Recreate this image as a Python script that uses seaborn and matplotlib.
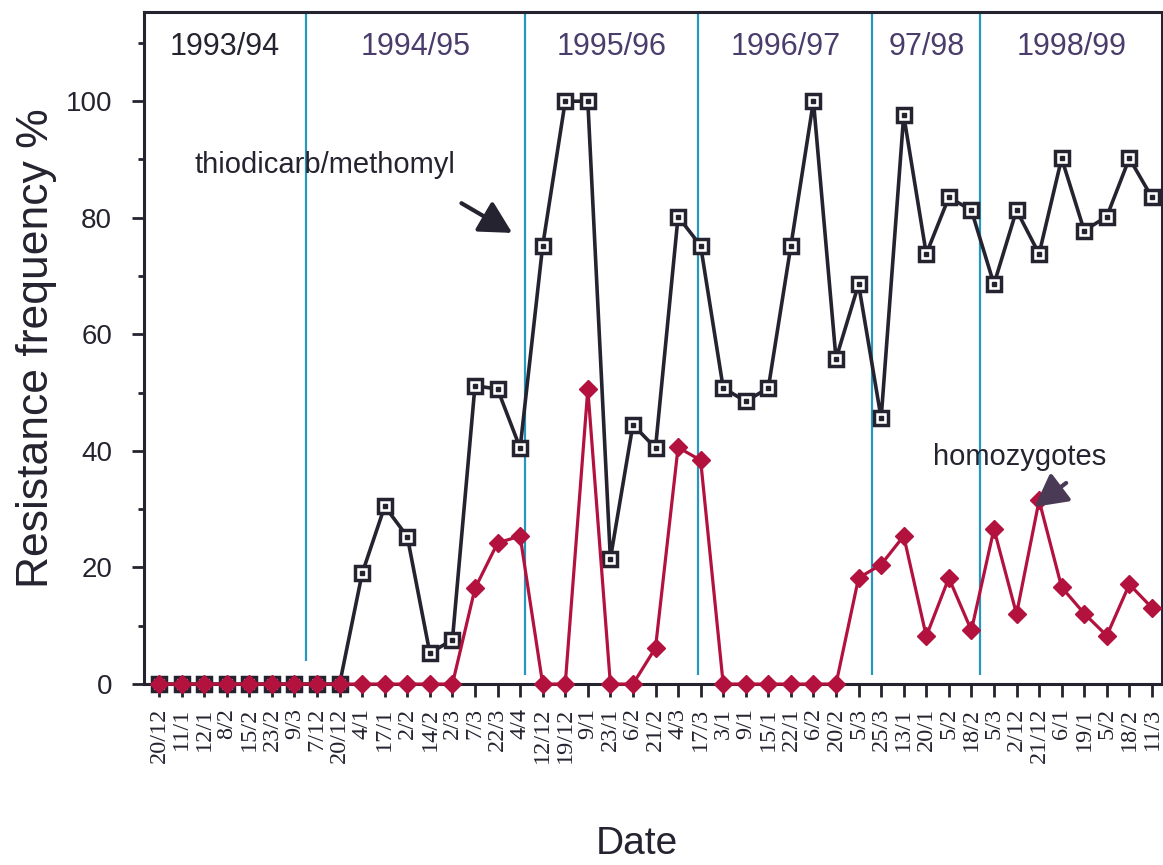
import numpy as np
import pandas as pd
import matplotlib
matplotlib.use("Agg")
import matplotlib.pyplot as plt
import seaborn as sns
from matplotlib.ticker import MultipleLocator

# ---------------- data ----------------
dates = ["20/12", "11/1", "12/1", "8/2", "15/2", "23/2", "9/3", "7/12", "20/12",
         "4/1", "17/1", "2/2", "14/2", "2/3", "7/3", "22/3", "4/4", "12/12", "19/12",
         "9/1", "23/1", "6/2", "21/2", "4/3", "17/3", "3/1", "9/1", "15/1", "22/1",
         "6/2", "20/2", "5/3", "25/3", "13/1", "20/1", "5/2", "18/2", "5/3", "2/12",
         "21/12", "6/1", "19/1", "5/2", "18/2", "11/3"]

thiodicarb = [0, 0, 0, 0, 0, 0, 0, 0, 0,
              19, 30.5, 25.3, 5.3, 7.6, 51.2, 50.6, 40.5, 75.2, 100,
              100, 21.5, 44.5, 40.5, 80.2, 75.2, 50.8, 48.5, 50.8, 75.2,
              100, 55.8, 68.6, 45.6, 97.6, 73.8, 83.5, 81.3, 68.6, 81.3,
              73.8, 90.2, 77.8, 80.2, 90.2, 83.5]

homozygotes = [0, 0, 0, 0, 0, 0, 0, 0, 0,
               0, 0, 0, 0, 0, 16.4, 24.2, 25.4, 0, 0,
               50.6, 0, 0, 6.2, 40.6, 38.4, 0, 0, 0, 0,
               0, 0, 18.2, 20.5, 25.4, 8.2, 18.2, 9.2, 26.6, 12.0,
               31.5, 16.6, 12.1, 8.3, 17.1, 13.1]

seasons = ["1993/94", "1994/95", "1995/96", "1996/97", "97/98", "1998/99"]
season_dividers = [6.5, 16.2, 23.9, 31.6, 36.4]
divider_bottoms = [4.0, 1.5, 1.5, 1.5, 1.5]

yticks = [0, 20, 40, 60, 80, 100]

# ---------------- style ----------------
sns.set_style("ticks")
plt.rcParams["font.family"] = ["Liberation Sans", "DejaVu Sans"]

BLACK = "#25232f"
RED = "#b3123e"
TEAL = "#2897bd"
PURPLE = "#4a3c6b"

fig = plt.figure(figsize=(11.63, 8.65), dpi=100)
ax = fig.add_axes([0.1238, 0.2092, 0.8752, 0.7769])

x = np.arange(len(dates))
df = pd.DataFrame({"x": x, "thio": thiodicarb, "homo": homozygotes})

XMIN, XMAX = -0.67, 44.44
YMIN, YMAX = 0, 115.3

# season dividers
ax.vlines(season_dividers, divider_bottoms, YMAX, colors=TEAL, lw=1.6, zorder=1)

# thiodicarb/methomyl series
sns.lineplot(data=df, x="x", y="thio", ax=ax, color=BLACK, lw=2.6,
             marker="s", markersize=10, markerfacecolor="white",
             markeredgecolor=BLACK, markeredgewidth=2.5, clip_on=False, zorder=3)
ax.plot(x, thiodicarb, ls="none", marker="s", markersize=2.6, color=BLACK,
        clip_on=False, zorder=4)

# homozygotes series
sns.lineplot(data=df, x="x", y="homo", ax=ax, color=RED, lw=2.3,
             marker="D", markersize=9, markerfacecolor=RED,
             markeredgecolor=RED, markeredgewidth=1, clip_on=False, zorder=5)

ax.set_xlim(XMIN, XMAX)
ax.set_ylim(YMIN, YMAX)

# axes / ticks
ax.set_xticks(x)
ax.set_xticklabels(dates, rotation=90, family=["Liberation Serif", "DejaVu Serif"],
                   fontsize=17.5, color=BLACK)
ax.set_yticks(yticks)
ax.set_yticklabels([str(v) for v in yticks], fontsize=20, color=BLACK)
ax.yaxis.set_minor_locator(MultipleLocator(10))
ax.tick_params(axis="x", direction="out", length=9, width=2, color=BLACK, pad=8)
ax.tick_params(axis="y", which="major", direction="out", length=9, width=2,
               color=BLACK, pad=14)
ax.tick_params(axis="y", which="minor", direction="out", length=4, width=2, color=BLACK)
for s in ax.spines.values():
    s.set_color(BLACK)
    s.set_linewidth(2.2)
    s.set_visible(True)
ax.set_xlabel("")
ax.set_ylabel("")

# season labels
edges = [XMIN] + season_dividers + [XMAX]
for i, lab in enumerate(seasons):
    cx = (edges[i] + edges[i + 1]) / 2
    ax.text(cx, 108, lab, ha="center", va="baseline", fontsize=22,
            color=BLACK if i == 0 else PURPLE, zorder=6)

# annotations
ax.text(1.55, 87.6, "thiodicarb/methomyl", ha="left", va="baseline",
        fontsize=21, color=BLACK)
ax.annotate("", xy=(15.65, 77.4), xytext=(13.4, 82.5),
            arrowprops=dict(arrowstyle="-|>,head_length=1.4,head_width=0.75",
                            color=BLACK, lw=3, mutation_scale=14,
                            shrinkA=0, shrinkB=0))
ax.text(34.28, 37.6, "homozygotes", ha="left", va="baseline",
        fontsize=21, color=BLACK)
ax.annotate("", xy=(38.8, 30.4), xytext=(40.2, 34.5),
            arrowprops=dict(arrowstyle="-|>,head_length=1.4,head_width=0.75",
                            color="#4a3a55", lw=3, mutation_scale=14,
                            shrinkA=0, shrinkB=0), zorder=7)

# axis titles
fig.text(37 / 1163, 1 - 348 / 865, "Resistance frequency %", rotation=90,
         ha="center", va="center", fontsize=32, color=BLACK)
fig.text(637 / 1163, 3 / 865, "Date", ha="center", va="bottom",
         fontsize=28, color=BLACK)

fig.savefig("out.png", dpi=100)
